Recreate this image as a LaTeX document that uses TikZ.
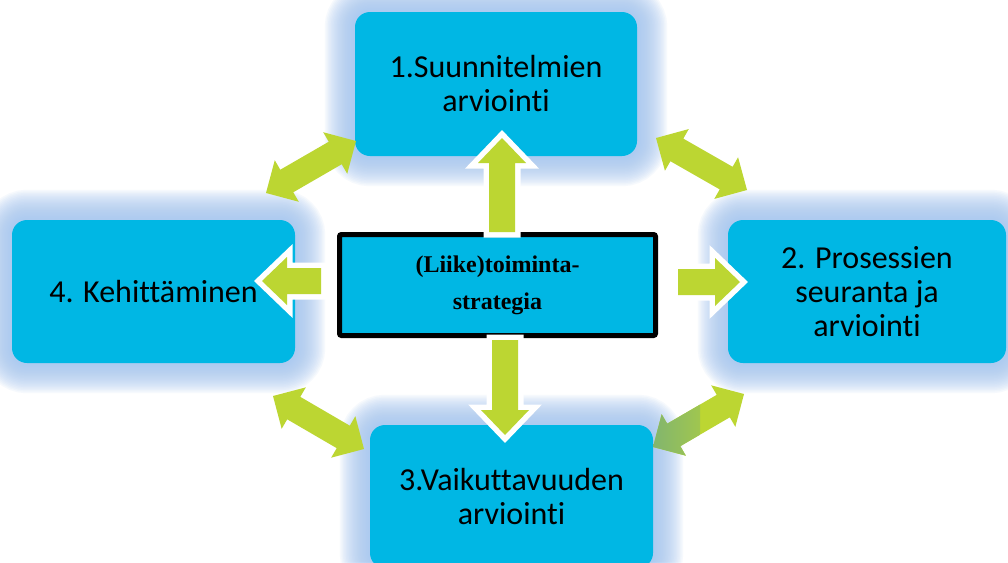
\documentclass[tikz,border=0pt]{standalone}
\usepackage{fontspec}
\setmainfont{Carlito}[Ligatures={NoCommon,NoContextual},Contextuals={NoAlternate}]
\newfontfamily\timesfont{Liberation Serif}
\usetikzlibrary{calc,backgrounds}
\definecolor{boxcyan}{RGB}{0,183,228}
\definecolor{arrowgreen}{RGB}{188,214,50}
\definecolor{glowblue}{RGB}{165,198,240}
\definecolor{tipblend}{RGB}{128,180,112}
\tikzset{
  bigbox/.style={rectangle, rounded corners=15pt, fill=boxcyan, inner sep=0pt,
    align=center, font=\fontsize{32}{34}\selectfont, text=black},
  centerbox/.style={rectangle, rounded corners=2pt, fill=boxcyan, draw=black,
    line width=5pt, inner sep=0pt, align=center,
    font=\timesfont\bfseries\fontsize{24}{37}\selectfont},
  sarrow/.style={preaction={draw=white, line width=11pt, line join=miter},
    fill=arrowgreen},
  darrow/.style={fill=arrowgreen},
}
\newcommand\straightarrow[2]{%
  \path[sarrow] ($(#1)!13pt!90:(#2)$)
    -- ($(#2)!25pt!(#1)!13pt!-90:(#1)$)
    -- ($(#2)!25pt!(#1)!24pt!-90:(#1)$)
    -- (#2)
    -- ($(#2)!25pt!(#1)!24pt!90:(#1)$)
    -- ($(#2)!25pt!(#1)!13pt!90:(#1)$)
    -- ($(#1)!13pt!-90:(#2)$) -- cycle;}
\newcommand\dblarrow[3][]{%
  \path[darrow,#1] (#2)
    -- ($(#2)!24pt!(#3)!24pt!90:(#3)$)
    -- ($(#2)!24pt!(#3)!13pt!90:(#3)$)
    -- ($(#3)!24pt!(#2)!13pt!-90:(#2)$)
    -- ($(#3)!24pt!(#2)!24pt!-90:(#2)$)
    -- (#3)
    -- ($(#3)!24pt!(#2)!24pt!90:(#2)$)
    -- ($(#3)!24pt!(#2)!13pt!90:(#2)$)
    -- ($(#2)!24pt!(#3)!13pt!-90:(#3)$)
    -- ($(#2)!24pt!(#3)!24pt!-90:(#3)$) -- cycle;}
\begin{document}
\begin{tikzpicture}[x=1pt,y=-1pt]
\useasboundingbox (0,0) rectangle (1008,562);

% boxes
\node[bigbox, minimum width=282pt, minimum height=144pt] (top) at (496,84) {1.Suunnitelmien\\arviointi};
\node[bigbox, minimum width=283pt, minimum height=143pt] (left) at (153.5,291.5) {4. Kehittäminen};
\node[bigbox, minimum width=278pt, minimum height=143pt] (right) at (867,291.5) {2. Prosessien\\seuranta ja\\arviointi};
\node[bigbox, minimum width=283pt, minimum height=143pt] (bottom) at (511.5,496.5) {3.Vaikuttavuuden\\arviointi};

% glow
\begin{scope}[on background layer]
\fill[white] (0,0) rectangle (1008,562);
\foreach \n in {top,left,right,bottom}{
  \foreach \w in {60,57,...,3}{
    \draw[glowblue, line width=\w pt, opacity=0.09, rounded corners=15pt]
      (\n.south west) rectangle (\n.north east);
  }
}
\end{scope}

% center box
\node[centerbox, minimum width=316pt, minimum height=101pt] (center) at (497.5,285) {(Liike)toiminta-\\strategia};

% straight arrows
\coordinate (upT) at (502,232);   \coordinate (upP) at (502,138);
\coordinate (dnT) at (505,340);   \coordinate (dnP) at (505,435);
\coordinate (lfT) at (321,281);   \coordinate (lfP) at (262,281);
\coordinate (rtT) at (678,282);   \coordinate (rtP) at (740,282);
\straightarrow{upT}{upP}
\straightarrow{dnT}{dnP}
\straightarrow{lfT}{lfP}
\straightarrow{rtT}{rtP}

% diagonal double arrows
\coordinate (tlA) at (266,193);  \coordinate (tlB) at (356,141);
\coordinate (trA) at (656,138);  \coordinate (trB) at (747,190);
\coordinate (blA) at (273,396);  \coordinate (blB) at (364,449);
\coordinate (brA) at (653,447);  \coordinate (brB) at (744,394);
\dblarrow{tlA}{tlB}
\dblarrow{trA}{trB}
\dblarrow{blA}{blB}
\dblarrow[path picture={\shade[left color=tipblend, right color=arrowgreen] (650,370) rectangle (700,470);}]{brA}{brB}
\end{tikzpicture}
\end{document}
